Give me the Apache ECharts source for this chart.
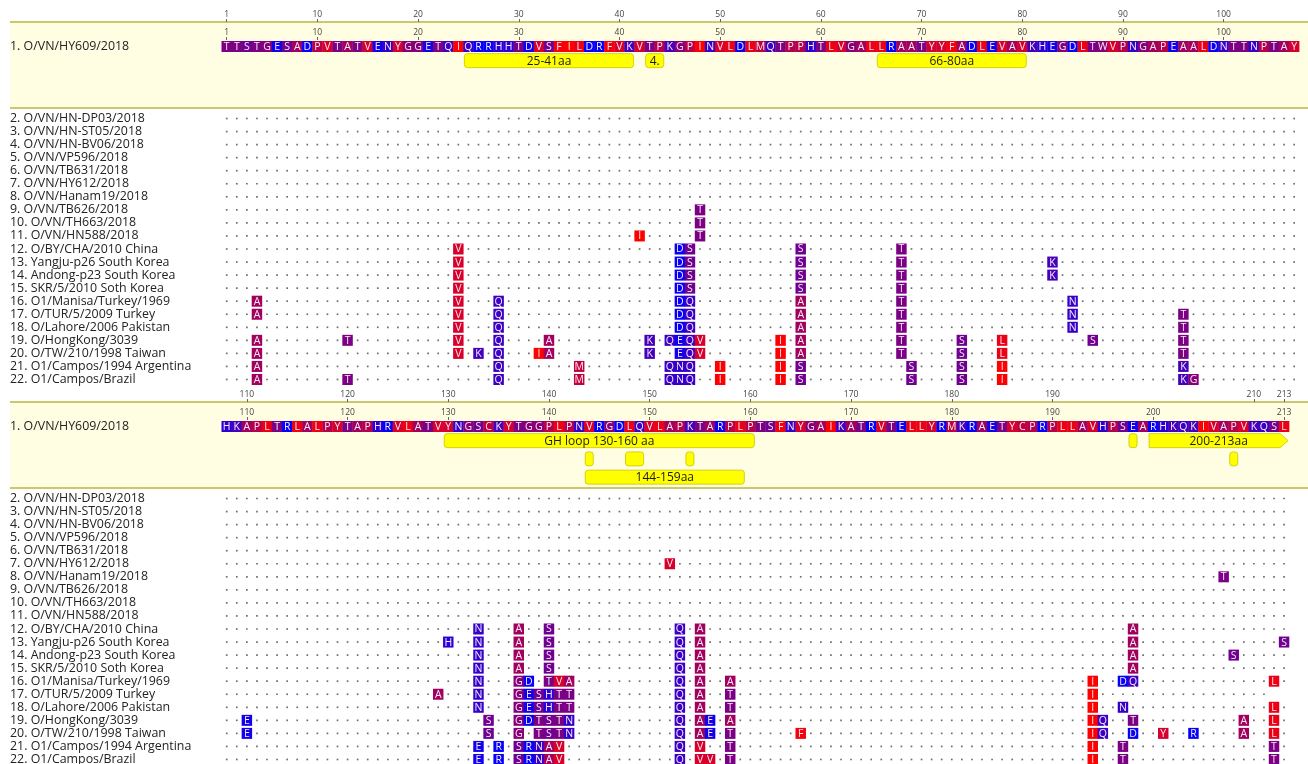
<!DOCTYPE html>
<html><head><meta charset="utf-8">
<script src="https://cdn.jsdelivr.net/npm/echarts@6/dist/echarts.min.js"></script>
<style>html,body{margin:0;padding:0;background:#fff}#c{width:1308px;height:764px}</style>
</head><body><div id="c"></div>
<script>
// ---------------- DATA ----------------
const names = [
  "1. O/VN/HY609/2018","2. O/VN/HN-DP03/2018","3. O/VN/HN-ST05/2018","4. O/VN/HN-BV06/2018",
  "5. O/VN/VP596/2018","6. O/VN/TB631/2018","7. O/VN/HY612/2018","8. O/VN/Hanam19/2018",
  "9. O/VN/TB626/2018","10. O/VN/TH663/2018","11. O/VN/HN588/2018","12. O/BY/CHA/2010 China",
  "13. Yangju-p26 South Korea","14. Andong-p23 South Korea","15. SKR/5/2010 Soth Korea",
  "16. O1/Manisa/Turkey/1969","17. O/TUR/5/2009 Turkey","18. O/Lahore/2006 Pakistan",
  "19. O/HongKong/3039","20. O/TW/210/1998 Taiwan","21. O1/Campos/1994 Argentina","22. O1/Campos/Brazil"
];
const topSeq = "TTSTGESADPVTATVENYGGETQIQRRHHTDVSFILDRFVKVTPKGPINVLDLMQTPPHTLVGALLRAATYYFADLEVAVKHEGDLTWVPNGAPEAALDNTTNPTAY";
const bottomSeq = "HKAPLTRLALPYTAPHRVLATVYNGSCKYTGGPLPNVRGDLQVLAPKTARPLPTSFNYGAIKATRVTELLYRMKRAETYCPRPLLAVHPSEARHKQKIVAPVKQSL";
const topStart = 1;
const bottomStart = 108;
const topOuterTicks = [1,10,20,30,40,50,60,70,80,90,100];
const topInnerTicks = [1,10,20,30,40,50,60,70,80,90,100];
const bottomOuterTicks = [110,120,130,140,150,160,170,180,190,210,213];
const bottomInnerTicks = [110,120,130,140,150,160,170,180,190,200,213];
// differences: [sequence number, first position, residues]
const topDiffs = [
  [9,48,"T"],[10,48,"T"],[11,42,"I"],[11,48,"T"],
  [12,24,"V"],[12,46,"DS"],[12,58,"S"],[12,68,"T"],
  [13,24,"V"],[13,46,"DS"],[13,58,"S"],[13,68,"T"],[13,83,"K"],
  [14,24,"V"],[14,46,"DS"],[14,58,"S"],[14,68,"T"],[14,83,"K"],
  [15,24,"V"],[15,46,"DS"],[15,58,"S"],[15,68,"T"],
  [16,4,"A"],[16,24,"V"],[16,28,"Q"],[16,46,"DQ"],[16,58,"A"],[16,68,"T"],[16,85,"N"],
  [17,4,"A"],[17,24,"V"],[17,28,"Q"],[17,46,"DQ"],[17,58,"A"],[17,68,"T"],[17,85,"N"],[17,96,"T"],
  [18,24,"V"],[18,28,"Q"],[18,46,"DQ"],[18,58,"A"],[18,68,"T"],[18,85,"N"],[18,96,"T"],
  [19,4,"A"],[19,13,"T"],[19,24,"V"],[19,28,"Q"],[19,33,"A"],[19,43,"K"],[19,45,"QEQV"],[19,56,"I"],[19,58,"A"],[19,68,"T"],[19,74,"S"],[19,78,"L"],[19,87,"S"],[19,96,"T"],
  [20,4,"A"],[20,24,"V"],[20,26,"K"],[20,28,"Q"],[20,32,"IA"],[20,43,"K"],[20,46,"EQV"],[20,56,"I"],[20,58,"A"],[20,68,"T"],[20,74,"S"],[20,78,"L"],[20,96,"T"],
  [21,4,"A"],[21,28,"Q"],[21,36,"M"],[21,45,"QNQ"],[21,50,"I"],[21,56,"I"],[21,58,"S"],[21,69,"S"],[21,74,"S"],[21,78,"I"],[21,96,"K"],
  [22,4,"A"],[22,13,"T"],[22,28,"Q"],[22,36,"M"],[22,45,"QNQ"],[22,50,"I"],[22,56,"I"],[22,58,"S"],[22,69,"S"],[22,74,"S"],[22,78,"I"],[22,96,"KG"]
];
const bottomDiffs = [
  [7,152,"V"],[8,207,"T"],
  [12,133,"N"],[12,137,"A"],[12,140,"S"],[12,153,"Q"],[12,155,"A"],[12,198,"A"],
  [13,130,"H"],[13,133,"N"],[13,137,"A"],[13,140,"S"],[13,153,"Q"],[13,155,"A"],[13,198,"A"],[13,213,"S"],
  [14,133,"N"],[14,137,"A"],[14,140,"S"],[14,153,"Q"],[14,155,"A"],[14,198,"A"],[14,208,"S"],
  [15,133,"N"],[15,137,"A"],[15,140,"S"],[15,153,"Q"],[15,155,"A"],[15,198,"A"],
  [16,133,"N"],[16,137,"GD"],[16,140,"TVA"],[16,153,"Q"],[16,155,"A"],[16,158,"A"],[16,194,"I"],[16,197,"DQ"],[16,212,"L"],
  [17,129,"A"],[17,133,"N"],[17,137,"GESHTT"],[17,153,"Q"],[17,155,"A"],[17,158,"T"],[17,194,"I"],
  [18,133,"N"],[18,137,"GESHTT"],[18,153,"Q"],[18,155,"A"],[18,158,"T"],[18,194,"I"],[18,197,"N"],[18,212,"L"],
  [19,110,"E"],[19,134,"S"],[19,137,"GDTSTN"],[19,153,"Q"],[19,155,"AE"],[19,158,"A"],[19,194,"IQ"],[19,198,"T"],[19,209,"A"],[19,212,"L"],
  [20,110,"E"],[20,134,"S"],[20,137,"G"],[20,139,"TSTN"],[20,153,"Q"],[20,155,"AE"],[20,158,"T"],[20,165,"F"],[20,194,"IQ"],[20,198,"D"],[20,201,"Y"],[20,204,"R"],[20,209,"A"],[20,212,"L"],
  [21,133,"E"],[21,135,"R"],[21,137,"SRNAV"],[21,153,"Q"],[21,155,"V"],[21,158,"T"],[21,194,"I"],[21,197,"T"],[21,212,"T"],
  [22,133,"E"],[22,135,"R"],[22,137,"SRNAV"],[22,153,"Q"],[22,155,"VV"],[22,158,"T"],[22,194,"I"],[22,197,"T"],[22,212,"T"]
];
// sequences that end before the last alignment column
const seqEnds = {17: 211};
// annotations: [from, to, track, label, shape]
const topFeatures = [[25,41,0,"25-41aa","box"],[43,44,0,"4.","box"],[66,80,0,"66-80aa","box"]];
const bottomFeatures = [
  [130,160,0,"GH loop 130-160 aa","box"],[198,198,0,"","box"],[200,213,0,"200-213aa","arrow"],
  [144,144,1,"","box"],[148,149,1,"","box"],[154,154,1,"","box"],[208,208,1,"","box"],
  [144,159,2,"144-159aa","box"]
];

// ---------------- STYLE ----------------
const FONT = '"Open Sans", "Noto Sans", sans-serif';
const AA = {I:'#ff0000',F:'#f6000b',L:'#eb0016',V:'#d8002a',Y:'#d30030',C:'#c0003e',M:'#c4003c',P:'#b5004b',
  A:'#a2005e',W:'#8a0075',G:'#880078',T:'#7b0084',S:'#700090',H:'#2c00d4',K:'#4400bb',Q:'#3b00c4',
  N:'#3400cb',E:'#1200ed',D:'#0600f9',R:'#0400fb'};
const LEFT = 221.7, CELL = 10.07, BOXH = 11;

const chart = echarts.init(document.getElementById('c'), null, {renderer:'canvas'});
const option = {animation:false, grid:[], xAxis:[], yAxis:[], series:[], graphic:{elements:[]}};

function cellGroup(p, w, h, c) {
  return {type:'group', children:[
    {type:'rect', shape:{x:p[0]-w/2-0.2, y:p[1]-h/2, width:w+0.4, height:h}, style:{fill:AA[c]||'#888'}},
    {type:'text', style:{text:c, x:p[0], y:p[1]+0.5, align:'center', verticalAlign:'middle',
      textAlign:'center', textVerticalAlign:'middle', fill:'#f7eaf7', font:'10.5px ' + FONT}}
  ]};
}

function addBlock(cfg) {
  const n = cfg.seq.length, min = cfg.start - 0.5, max = cfg.start + n - 0.5, W = n * CELL;
  const dy = cfg.dy;
  const g0 = option.grid.length;
  option.grid.push({left:LEFT, top:41+dy, width:W, height:BOXH, outerBoundsMode:'none'});
  option.grid.push({left:LEFT, top:51.5+dy, width:W, height:cfg.tracks*18.25, outerBoundsMode:'none'});
  option.grid.push({left:LEFT, top:112+dy, width:W, height:274, outerBoundsMode:'none'});
  const x0 = option.xAxis.length;
  const rulerAxis = (ticks, offset) => ({gridIndex:g0, type:'value', min, max, position:'top', offset,
    axisLine:{show:false}, splitLine:{show:false},
    axisTick:{show:true, customValues:ticks, length:3, lineStyle:{color:'#666', width:1}},
    axisLabel:{customValues:ticks, fontSize:8.5, color:'#444', margin:3, fontFamily:FONT}});
  option.xAxis.push(rulerAxis(cfg.innerTicks, 1));
  option.xAxis.push(rulerAxis(cfg.outerTicks, 19));
  option.xAxis.push({gridIndex:g0+1, type:'value', min, max, show:false});
  option.xAxis.push({gridIndex:g0+2, type:'value', min, max, show:false});
  const y0 = option.yAxis.length;
  const nameLabel = {align:'left', margin:LEFT-10, fontSize:12.4, color:'#222', fontFamily:FONT, interval:0};
  option.yAxis.push({gridIndex:g0, type:'category', data:[names[0]], axisLine:{show:false}, axisTick:{show:false}, axisLabel:nameLabel});
  option.yAxis.push({gridIndex:g0+1, type:'value', min:-0.5, max:cfg.tracks-0.5, inverse:true, show:false});
  option.yAxis.push({gridIndex:g0+2, type:'category', data:names.slice(1), inverse:true, axisLine:{show:false}, axisTick:{show:false}, axisLabel:nameLabel});

  // panel
  option.graphic.elements.push(
    {type:'rect', z:-10, silent:true, shape:{x:10, y:22+dy, width:1300, height:86}, style:{fill:'#fffee3'}},
    {type:'line', z:-9, silent:true, shape:{x1:10, y1:22+dy, x2:1308, y2:22+dy}, style:{stroke:'#b9b742', lineWidth:1.5}},
    {type:'line', z:-9, silent:true, shape:{x1:10, y1:108+dy, x2:1308, y2:108+dy}, style:{stroke:'#b9b742', lineWidth:1.5}}
  );

  // reference row
  const refData = cfg.seq.split('').map((c, i) => [cfg.start + i, 0]);
  option.series.push({type:'custom', xAxisIndex:x0, yAxisIndex:y0, data:refData, silent:true,
    renderItem:(params, api) => {
      const pos = api.value(0);
      const p = api.coord([pos, 0]);
      const w = api.size([1, 0])[0];
      return cellGroup(p, w, BOXH, cfg.seq[pos - cfg.start]);
    }});

  // annotations
  option.series.push({type:'custom', xAxisIndex:x0+2, yAxisIndex:y0+1, silent:true,
    data:cfg.features.map(f => [f[0], f[1], f[2]]),
    renderItem:(params, api) => {
      const f = cfg.features[params.dataIndex];
      const a = api.coord([api.value(0) - 0.5, api.value(2)]);
      const b = api.coord([api.value(1) + 0.5, api.value(2)]);
      const x1 = a[0] + 1, x2 = b[0] - 1, yc = a[1], h = 14;
      const children = [];
      if (f[4] === 'arrow') {
        children.push({type:'polygon', shape:{points:[[x1, yc-h/2],[x2-8, yc-h/2],[x2, yc],[x2-8, yc+h/2],[x1, yc+h/2]]},
          style:{fill:'#ffff00', stroke:'#c9c400', lineWidth:0.8}});
      } else {
        children.push({type:'rect', shape:{x:x1, y:yc-h/2, width:x2-x1, height:h, r:3},
          style:{fill:'#ffff00', stroke:'#c9c400', lineWidth:0.8}});
      }
      if (f[3]) children.push({type:'text', style:{text:f[3], x:(x1+x2)/2, y:yc+0.5, align:'center', verticalAlign:'middle',
        textAlign:'center', textVerticalAlign:'middle', fill:'#1a1a1a', font:'12px ' + FONT}});
      return {type:'group', children};
    }});

  // differences
  const diffCells = [], diffKeys = new Set();
  cfg.diffs.forEach(([row, from, s]) => {
    s.split('').forEach((c, k) => {
      diffCells.push({pos: from + k, row, c});
      diffKeys.add(row + ':' + (from + k));
    });
  });
  const dots = [];
  for (let r = 2; r <= names.length; r++) {
    const last = seqEnds[r] || Infinity;
    for (let i = 0; i < n; i++) {
      const pos = cfg.start + i;
      if (pos > last) continue;
      if (!diffKeys.has(r + ':' + pos)) dots.push([pos, r - 2]);
    }
  }
  option.series.push({type:'scatter', xAxisIndex:x0+3, yAxisIndex:y0+2, data:dots, silent:true,
    symbol:'rect', symbolSize:1.7, itemStyle:{color:'#4a4a4a'}, large:false});
  option.series.push({type:'custom', xAxisIndex:x0+3, yAxisIndex:y0+2, silent:true,
    data:diffCells.map(d => [d.pos, d.row - 2]),
    renderItem:(params, api) => {
      const d = diffCells[params.dataIndex];
      const p = api.coord([api.value(0), api.value(1)]);
      const w = api.size([1, 0])[0];
      return cellGroup(p, w, BOXH, d.c);
    }});
}

addBlock({seq:topSeq, start:topStart, dy:0, tracks:1, innerTicks:topInnerTicks, outerTicks:topOuterTicks, diffs:topDiffs, features:topFeatures});
addBlock({seq:bottomSeq, start:bottomStart, dy:380, tracks:3, innerTicks:bottomInnerTicks, outerTicks:bottomOuterTicks, diffs:bottomDiffs, features:bottomFeatures});

chart.setOption(option);
</script></body></html>
